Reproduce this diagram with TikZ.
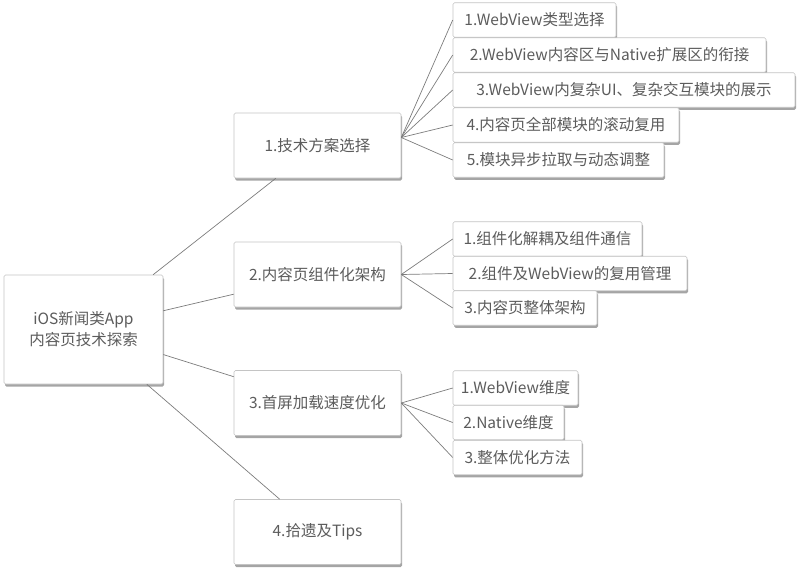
\documentclass[tikz,border=0pt]{standalone}
\usepackage{fontspec}
\newfontfamily\cjk{Noto Sans CJK SC}
\usetikzlibrary{shadows}
\definecolor{Ink}{HTML}{5C5C5C}
\definecolor{Frame}{HTML}{C4C4C4}
\definecolor{Wire}{HTML}{7C7C7C}
\tikzset{
  boxbase/.style={rectangle,rounded corners=1.5pt,draw=Frame,line width=0.6pt,fill=white,text=Ink,
    inner sep=0pt,align=center,font=\cjk\fontsize{15.5}{21}\selectfont,
    drop shadow={shadow xshift=1pt,shadow yshift=-2.5pt,opacity=0.5,fill=black!70}},
  topic/.style={boxbase,minimum width=167pt,minimum height=65pt},
  leaf/.style={boxbase,minimum height=34.5pt},
  wire/.style={draw=Wire,line width=0.7pt},
}

\begin{document}
\begin{tikzpicture}[x=1pt,y=-1pt]
    \useasboundingbox (0,0) rectangle (799,570);

    \node[boxbase,minimum width=159pt,minimum height=109pt] (root) at (83.5,329.5) {iOS新闻类App\\内容页技术探索};

    \node[topic] (plan) at (317.5,145.5) {1.技术方案选择};
    \node[topic] (arch) at (317.5,274.5) {2.内容页组件化架构};
    \node[topic] (speed) at (317.5,403) {3.首屏加载速度优化};
    \node[topic] (tips) at (317.5,532) {4.拾遗及Tips};

    \node[leaf,minimum width=163pt] (planA) at (534.5,20) {1.WebView类型选择};
    \node[leaf,minimum width=313pt] (planB) at (609.5,55) {2.WebView内容区与Native扩展区的衔接};
    \node[leaf,minimum width=342pt] (planC) at (624,90) {3.WebView内复杂UI、复杂交互模块的展示};
    \node[leaf,minimum width=226pt] (planD) at (566,125) {4.内容页全部模块的滚动复用};
    \node[leaf,minimum width=211pt] (planE) at (558.5,160) {5.模块异步拉取与动态调整};

    \node[leaf,minimum width=189pt] (archA) at (547.5,239) {1.组件化解耦及组件通信};
    \node[leaf,minimum width=234pt] (archB) at (570,273.5) {2.组件及WebView的复用管理};
    \node[leaf,minimum width=144pt] (archC) at (525,308) {3.内容页整体架构};

    \node[leaf,minimum width=125pt] (speedA) at (515.5,388) {1.WebView维度};
    \node[leaf,minimum width=111pt] (speedB) at (508.5,422.5) {2.Native维度};
    \node[leaf,minimum width=129pt] (speedC) at (517.5,457.5) {3.整体优化方法};

    \draw[wire] (root) -- (plan);
    \draw[wire] (root) -- (arch);
    \draw[wire] (root) -- (speed);
    \draw[wire] (root) -- (tips);

    \draw[wire] ([yshift=8pt]plan.east) -- (planA.west);
    \draw[wire] ([yshift=8pt]plan.east) -- (planB.west);
    \draw[wire] ([yshift=8pt]plan.east) -- (planC.west);
    \draw[wire] ([yshift=8pt]plan.east) -- (planD.west);
    \draw[wire] ([yshift=8pt]plan.east) -- (planE.west);

    \draw[wire] (arch.east) -- (archA.west);
    \draw[wire] (arch.east) -- (archB.west);
    \draw[wire] (arch.east) -- (archC.west);

    \draw[wire] (speed.east) -- (speedA.west);
    \draw[wire] (speed.east) -- (speedB.west);
    \draw[wire] (speed.east) -- (speedC.west);
\end{tikzpicture}
\end{document}
